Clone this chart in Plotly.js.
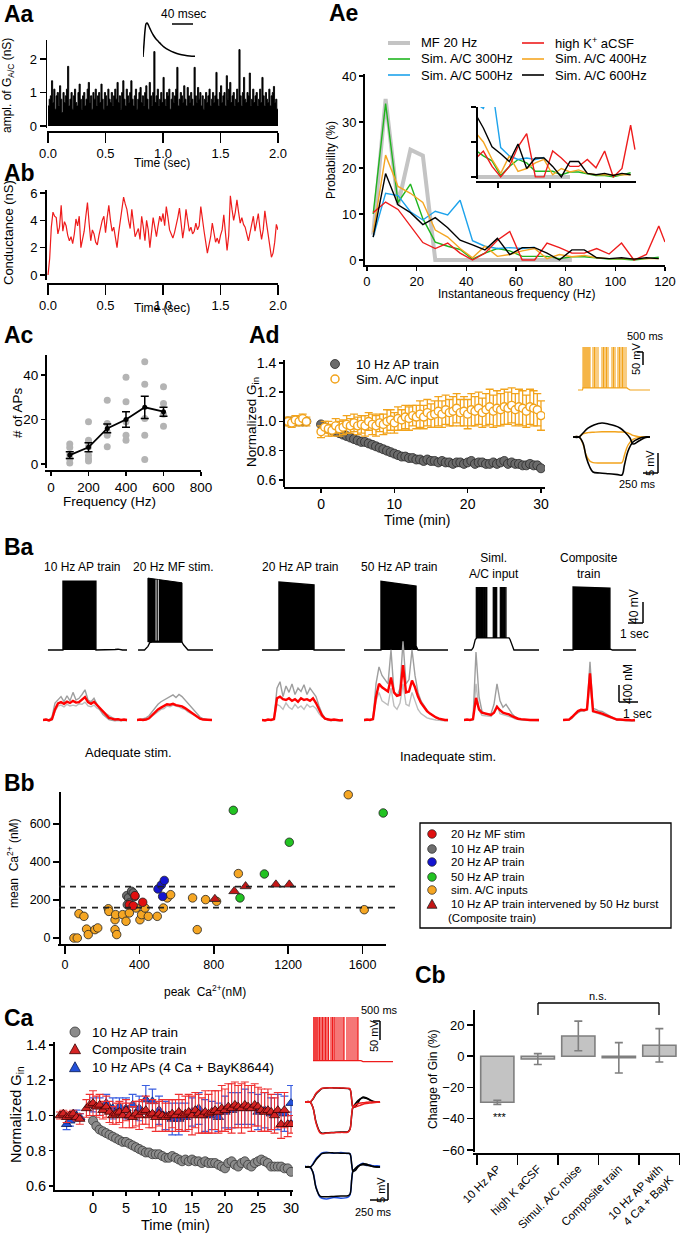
<!DOCTYPE html>
<html><head><meta charset="utf-8">
<script src="https://cdn.plot.ly/plotly-3.0.1.min.js"></script>
<style>html,body{margin:0;padding:0;background:#fff}#chart{width:682px;height:1234px}</style>
</head><body><div id="chart"></div>
<script>
// ================= DATA =================
// Aa: amplitude of simulated A/C conductance events (nS), one per 10 ms bin
const aaAmp = [
0.6,0.8,0.9,1.35,0.7,1.1,0.5,0.9,1.0,0.6,1.2,0.8,0.4,1.0,0.7,0.9,1.1,1.78,0.6,0.8,
1.0,0.5,0.9,1.1,0.7,0.6,1.0,1.25,0.8,0.5,0.9,1.0,0.6,0.8,1.1,1.3,0.7,0.9,0.5,1.0,
0.8,1.1,0.6,0.9,1.0,0.7,1.25,0.8,0.5,1.0,0.9,0.6,1.1,0.8,0.7,1.0,0.6,0.9,1.1,0.8,
1.3,0.7,0.9,0.5,1.0,1.35,0.8,0.6,1.1,0.9,0.7,1.0,1.35,0.8,0.6,0.9,1.1,0.5,0.8,1.0,
1.15,0.7,0.9,0.6,1.0,1.2,0.8,0.5,1.3,0.9,0.6,1.0,2.22,0.7,0.9,1.1,0.6,0.8,1.0,0.7,
1.45,0.8,0.6,1.0,0.9,1.1,0.5,0.8,1.0,0.7,0.9,1.1,1.75,0.6,0.8,1.0,0.9,0.7,1.2,0.8,
0.6,1.15,0.9,0.7,1.0,0.8,0.6,1.75,0.9,0.7,1.15,0.8,1.0,0.6,0.9,0.5,0.8,1.0,0.7,0.9,
1.1,0.6,0.8,1.0,0.7,0.9,1.6,0.8,0.6,1.0,1.2,0.7,0.9,1.0,0.6,1.5,0.8,1.1,1.3,0.7,
0.9,1.0,0.6,0.8,1.1,0.7,2.28,0.9,0.6,1.0,1.45,0.8,0.7,1.0,0.9,1.58,0.6,0.8,1.1,0.7,
0.9,1.0,0.6,0.8,1.1,0.7,1.45,0.9,0.6,1.0,0.8,0.7,1.1,0.6,0.9,1.0,1.18,0.7,0.8,0.5];
const aaKernelT = [0,2,4,6,8,10,13,16,20,25,30,35,40,50,60,70,80,90,100];
const aaKernelV = [0,0.4,0.8,0.98,1.0,0.95,0.85,0.75,0.64,0.53,0.45,0.37,0.3,0.2,0.13,0.08,0.05,0.03,0.02];
// Ab: conductance trace (nS), sampled evenly over 0-2 s
const abCond = [
0,1.2,3.5,4.6,4.3,4.2,3.0,3.5,5.1,3.2,3.9,3.6,2.9,2.5,2.8,2.3,3.0,4.1,3.6,4.3,
2.0,2.6,3.2,4.3,5.3,3.8,2.5,3.3,3.0,2.4,2.2,2.9,3.5,4.0,4.3,3.1,4.2,5.1,4.0,3.2,
3.5,2.7,2.0,3.1,4.0,4.8,5.7,5.2,4.8,4.0,3.4,4.8,3.6,2.8,3.1,3.4,2.6,4.3,3.5,2.5,
4.0,3.3,2.0,2.9,4.2,3.5,2.8,3.6,4.3,3.9,4.5,3.6,5.0,4.2,3.3,3.0,2.7,3.1,3.6,4.2,
4.9,3.8,2.7,3.5,4.8,4.0,3.2,3.5,3.0,3.2,3.8,3.3,3.6,5.0,3.9,3.2,2.4,1.6,2.2,2.8,
3.8,3.0,2.4,2.7,2.3,2.9,3.3,4.4,3.2,1.8,2.9,5.8,4.8,4.0,4.6,5.5,4.6,3.8,4.2,3.7,
3.5,2.9,2.5,3.1,3.7,4.3,3.2,3.9,4.5,3.4,2.6,3.3,4.7,3.8,3.0,2.0,1.3,1.6,2.4,3.7,3.3];
// Ae: instantaneous frequency histograms (%)
const aeFreq = [2.5,7.5,12.5,17.5,22.5,27.5,32.5,37.5,42.5,47.5,52.5,57.5,62.5,67.5,72.5,77.5,82.5,87.5,92.5,97.5,102.5,107.5,112.5,117.5];
const aeRedFreq = [2.5,7.5,12.5,17.5,22.5,27.5,32.5,37.5,42.5,47.5,52.5,57.5,62.5,67.5,72.5,77.5,82.5,87.5,92.5,97.5,102.5,107.5,112.5,117.5,120];
const aeMF20 = [5.5,35,12,24,22.7,0,0,0,0,0,0,0,0,0,0,0,0];
const aeSim300 = [10,34,12.5,16.5,9,3.9,3,2.3,0.2,1.5,2.5,2,0.8,0.8,0.8,0.3,0.7,0.7,0.5,0.2,0.2,0,0.3,0.6];
const aeSim400 = [6,22.8,16,14.5,12.5,6.5,5,2.5,0.5,3,0.8,1.2,2,2.5,0.3,1.2,0.7,1,0.5,0.3,0.3,0.3,0.3,0.3];
const aeSim500 = [5,14.5,14,10.5,8.7,10.6,9.8,13,4.2,3,2.5,2.7,2.5,2.8];
const aeSim600 = [5,18.8,12,10.3,7.7,9.2,7,4.3,3.3,2.2,4.7,1.2,2.7,2.7,1.5,0,2.2,2.2,0.5,0.3,0.5,0.2,0.5,0.3];
const aeHighK = [10.3,12.6,11,7.3,3.8,2.5,3.7,1.5,0,1.5,4.3,6.2,0,0,3.7,2.7,1.5,1.5,2.5,1.3,3.7,0,1.2,7.4,3.9];
// Ac: number of APs vs stimulation frequency
const acFreq = [100,200,300,400,500,600];
const acMean = [4,7.5,16,20,25.5,23.5];
const acSem = [1.5,2,2,3.5,5,2];
const acCells100 = [9,7.4,4.2,2.4,0.5];
const acCells200 = [19,10.7,9.9,7.7,3.9,2.4,1.4];
const acCells300 = [28.7,18.2,14.4,12.9,7.7];
const acCells400 = [39,28,19,12.9,10.7];
const acCells500 = [46,35.8,20.5,12.9,2];
const acCells600 = [34.7,27.2,22.4,17];
// Ad: normalized Gin (baseline -4.5..-2 min, then 0..30 min every 0.5 min)
const adBaseT = [-4.5,-4,-3.5,-3,-2.5,-2];
const adApTrain = [1.00,1.00,1.00,1.00,1.00,1.00,
0.98,0.96,0.95,0.94,0.93,0.92,0.91,0.90,0.89,0.88,
0.87,0.86,0.86,0.85,0.84,0.83,0.82,0.81,0.80,0.79,
0.78,0.77,0.76,0.76,0.75,0.75,0.74,0.74,0.73,0.74,
0.73,0.73,0.72,0.73,0.72,0.72,0.71,0.72,0.72,0.71,
0.72,0.73,0.71,0.72,0.72,0.71,0.71,0.72,0.71,0.72,
0.73,0.71,0.72,0.71,0.71,0.70,0.70,0.71,0.70,0.70,0.68];
const adSimAC = [1.00,0.99,1.01,1.00,1.02,1.00,
0.93,0.96,0.95,0.94,0.97,0.95,0.96,0.98,0.97,0.99,
0.97,0.98,0.97,1.00,0.98,0.97,0.99,0.98,1.00,1.01,
0.99,1.02,1.01,1.03,1.02,1.04,1.03,1.05,1.03,1.06,
1.04,1.05,1.07,1.05,1.08,1.06,1.07,1.09,1.06,1.07,
1.05,1.08,1.07,1.09,1.06,1.08,1.10,1.07,1.09,1.08,
1.10,1.09,1.11,1.08,1.10,1.09,1.07,1.10,1.09,1.08,1.04];
const adSimACErr = [0.03,0.03,0.03,0.03,0.03,0.03,
0.04,0.04,0.05,0.04,0.05,0.05,0.05,0.06,0.05,0.06,
0.06,0.06,0.07,0.06,0.07,0.07,0.06,0.07,0.08,0.07,
0.07,0.08,0.07,0.08,0.08,0.07,0.08,0.09,0.08,0.09,
0.08,0.09,0.10,0.09,0.10,0.09,0.10,0.10,0.09,0.10,
0.10,0.11,0.10,0.11,0.10,0.11,0.12,0.11,0.12,0.11,
0.12,0.11,0.12,0.11,0.12,0.12,0.11,0.12,0.12,0.11,0.10];
const adSpikeTimes = [100,120,140,160,180,200,220,240,300,330,360,400,480,510,540,570,600,680,710,740,800,830,860,890,920,960];
const adStepT1 = [0,100,167,220,280,334,450,600,750,818,860,920,1002,1100,1200,1286];
const adBlackDown = [0,0,-1.5,-5,-7.5,-8.75,-9.0,-9.2,-9.4,-9.5,-7,-3.5,-1.25,-0.4,0,0];
const adOrangeDown = [0,0,-1.8,-4.5,-6.0,-6.4,-6.5,-6.5,-6.5,-6.4,-4.5,-2.0,-0.6,-0.1,0,0];
const adStepT2 = [0,100,167,250,350,484,600,700,785,870,952,1002,1100,1200,1286];
const adBlackUp = [0,0,1.0,2.2,3.0,3.5,3.2,2.8,2.25,1.2,-0.25,-1.75,-1.0,-0.2,0];
const adOrangeUp = [0,0,0.8,1.1,1.2,1.3,1.3,1.3,1.25,1.2,0.8,0.4,0.1,0,0];
// Ba: membrane potential envelopes (s, mV) and Ca2+ traces (nM, every 0.2 s)
const baHeaders = ['10 Hz AP train','20 Hz MF stim.','20 Hz AP train','50 Hz AP train','Siml.<br>A/C input','Composite<br>train'];
const baV10T = [0.33,0.9,1.33,1.33,3.53,3.53,4.3,4.8,5.0,5.3,5.6];
const baV10V = [-70,-70,-70,61,61,-70,-70,-69,-68.5,-70,-70];
const baMfPlatT = [0.07,0.5,0.73,0.85,1.0,1.5,2.0,2.5,3.0,3.1,3.25,3.4,4.0,4.5,5.07];
const baMfPlatV = [-70,-70,-63,-56,-55,-54.5,-55,-55,-55,-60,-66,-70,-70,-70,-70];
const baMfBlockT = [0.73,0.73,3.0,3.0];
const baMfBlockV = [-55,67,58,-55];
const baMfGaps = [1.27,1.42];
const baV20T = [0,1.13,1.13,3.47,3.47,4.5,5.53];
const baV20V = [-70,-70,59.5,54,-70,-70,-70];
const baV50T = [0,1.13,1.13,3.47,3.47,3.6,4.5,5.6];
const baV50V = [-70,-70,61,52,-62,-70,-70,-70];
const baSimPlatT = [0,0.5,0.62,0.75,0.85,1.5,2.0,2.5,3.0,3.07,3.2,3.33,4.0,4.5,5.0];
const baSimPlatV = [-70,-70,-65,-50,-47,-47,-48,-47,-47,-50,-62,-70,-70,-70,-70];
const baSimSpikes = [0.82,0.86,0.9,0.94,0.98,1.02,1.05,1.09,1.13,1.17,1.2,1.24,1.28,1.32,1.36,1.4,1.45,1.49,1.52,1.95,1.99,2.02,2.06,2.1,2.14,2.18,2.42,2.46,2.5,2.54,2.58,2.62,2.66,2.7,2.74,2.8];
const baCompT = [0,0.67,0.67,3.13,3.13,3.3,4.0,4.87];
const baCompV = [-70,-70,50,48,-68,-70,-70,-70];
const ca10Red = [50,60,40,70,300,440,470,430,480,450,500,460,470,520,590,470,430,480,400,330,240,160,100,80,60,70,50,60,50];
const ca10G1 = [50,70,50,120,450,520,600,480,620,500,700,520,560,650,760,520,480,560,420,280,180,120,60,40,30,40,30,40,30];
const ca10G2 = [40,50,30,50,250,380,400,360,420,380,400,380,430,420,470,380,360,400,330,300,260,200,150,110,80,60,50,50,40];
const caMfRed = [50,60,50,60,90,160,230,300,340,380,420,410,430,400,390,370,330,280,220,160,110,80,60,60,50,50];
const caMfG1 = [40,60,80,100,150,250,330,420,480,520,560,600,640,580,650,600,520,440,360,260,180,120,80,60,50,40];
const caMfG2 = [50,50,40,60,80,140,200,250,300,320,380,360,400,380,360,320,300,240,200,160,120,90,70,50,50,50];
const ca20Red = [50,40,60,50,70,560,600,540,520,560,500,540,480,560,520,540,500,560,450,300,160,80,60,50,60,50,40,50];
const ca20G1 = [40,50,40,60,80,800,950,600,850,700,900,650,800,720,880,650,800,700,600,380,200,100,50,40,50,40,30,40];
const ca20G2 = [50,40,50,40,60,420,380,300,450,350,300,420,330,380,300,420,350,380,320,200,120,70,40,30,40,30,30,30];
const ca50Red = [50,60,50,70,600,900,820,760,720,1050,700,620,640,1340,700,720,980,820,600,450,350,260,200,150,110,80,60,50,50];
const ca50G1 = [40,50,60,80,900,1300,1100,1000,900,1700,700,600,800,1900,900,1000,1700,1100,700,500,380,280,200,150,100,70,50,40,40];
const ca50G2 = [30,40,40,60,500,700,500,450,400,800,380,300,450,900,420,380,700,500,300,200,150,100,80,60,50,40,30,30,30];
const caSimRed = [50,60,50,70,570,300,220,200,180,170,220,360,280,220,200,180,140,110,80,70,60,60,50,50,50,50];
const caSimG1 = [40,50,40,60,1650,600,250,200,180,200,420,900,500,350,420,300,200,120,80,60,50,40,50,40,40,40];
const caSimG2 = [50,40,50,50,900,280,160,150,140,130,250,400,200,180,160,140,110,80,60,50,40,40,40,30,30,30];
const caCompRed = [50,60,60,120,200,260,290,280,300,1150,260,240,230,200,170,140,110,80,60,60,50,50,50,40,50];
const caCompG1 = [40,50,50,100,180,230,260,270,300,1420,320,300,260,250,210,170,120,80,50,40,40,30,40,30,30];
const caCompG2 = [50,40,50,90,170,230,270,260,280,900,240,220,200,170,150,120,100,70,50,50,40,40,30,30,30];
// Bb: peak vs mean Ca2+ (nM)
const bbMfPeak = [346,367,376,418], bbMfMean = [175,170,223,188];
const bbAp10Peak = [332,341,346,358,367,376,335], bbAp10Mean = [223,211,184,246,237,219,175];
const bbAp20Peak = [500,518,534,525], bbAp20Mean = [258,279,303,219];
const bbAp50Peak = [905,1206,1072,941,1711], bbAp50Mean = [672,504,337,211,658];
const bbSimPeak = [48,66,116,125,161,176,75,102,233,236,269,272,269,278,310,328,346,382,403,412,430,448,496,529,550,568,686,711,756,815,932,1523,1609];
const bbSimMean = [0,0,47,18,44,53,128,114,154,140,96,123,44,18,123,88,132,158,96,123,158,114,114,158,211,228,211,44,202,193,339,754,149];
const bbCompPeak = [806,910,971,1134,1206], bbCompMean = [205,246,272,281,281];
const bbThresholds = [270,160];
// Ca: normalized Gin
const caApT0 = 0;
const caApTrain = [0.97,0.94,0.92,0.91,0.90,0.89,0.88,0.87,0.86,0.85,
0.85,0.84,0.83,0.82,0.81,0.80,0.79,0.79,0.78,0.78,
0.78,0.77,0.76,0.76,0.77,0.76,0.75,0.74,0.75,0.74,
0.75,0.74,0.74,0.73,0.74,0.73,0.73,0.73,0.72,0.71,
0.70,0.73,0.74,0.72,0.71,0.73,0.74,0.72,0.71,0.73,
0.74,0.75,0.74,0.73,0.71,0.71,0.71,0.71,0.70,0.70,0.68];
const caCompBaseT = [-5,-4.5,-4,-3.5,-3,-2.5,-2];
const caComposite = [1.00,1.01,0.99,1.00,1.01,0.99,0.98,
1.04,1.06,1.07,1.05,1.06,1.03,1.05,1.02,1.00,1.01,
1.02,1.00,1.03,1.00,0.99,1.01,1.00,1.02,1.03,1.00,
1.01,0.99,1.01,1.00,0.99,1.00,1.01,1.00,1.02,1.00,
1.01,1.02,1.00,1.03,1.01,1.00,1.02,1.01,1.02,1.03,
1.02,1.04,1.03,1.05,1.04,1.06,1.05,1.04,1.06,1.05,
1.04,1.06,1.05,1.03,1.02,1.03,1.02,1.00,1.03,0.95,
1.03,0.95,0.95];
const caCompositeErr = [0.02,0.02,0.03,0.02,0.02,0.02,0.03,
0.05,0.06,0.07,0.06,0.06,0.05,0.06,0.06,0.05,0.06,
0.06,0.07,0.06,0.07,0.06,0.07,0.08,0.07,0.08,0.07,
0.08,0.08,0.07,0.09,0.08,0.09,0.08,0.09,0.10,0.09,
0.10,0.10,0.11,0.10,0.11,0.10,0.12,0.11,0.12,0.11,
0.12,0.13,0.12,0.13,0.14,0.13,0.12,0.14,0.13,0.12,
0.13,0.12,0.11,0.12,0.11,0.12,0.10,0.10,0.10,0.08,
0.10,0.07,0.05];
const caBayT = [-4,-3.5,-2.5,-2,0,1,2,3,4,5,6,7,8,9,10,11,12,13,14,15,16,17,18,19,20,21,22,23,24,25,26,27,28,29,30];
const caBayK = [0.95,0.97,1.00,0.99,
1.06,1.05,1.07,1.04,1.05,1.04,1.06,1.04,1.09,1.08,
1.03,1.00,0.98,0.98,0.99,1.02,1.04,1.00,1.00,0.99,
1.02,1.03,1.04,1.05,1.04,1.02,1.03,1.01,1.02,1.01,1.07];
const caBayKErr = [0.03,0.03,0.03,0.02,
0.04,0.05,0.05,0.06,0.05,0.06,0.06,0.07,0.08,0.07,
0.08,0.08,0.09,0.09,0.08,0.08,0.09,0.09,0.08,0.08,
0.09,0.10,0.09,0.10,0.09,0.10,0.10,0.09,0.10,0.10,0.10];
const caSpikeTimes = [0,20,40,60,80,100,130,160,190,220,250,280,310,360,390,420,440,480,520,560,600,620,680,720,760,800,840,880,900];
const caSpikeBaseT = [0,960,1000,1600], caSpikeBaseV = [-62,-62,-64,-64];
const caStepT = [0,70,111,153,208,236,300,400,500,598,625,650,667,700,737,770,806,850,900,945,1000,1043];
const caBlackUp1 = [0,0,0.8,2.2,3.3,3.7,3.9,3.9,3.8,3.7,3.5,0.5,-1.5,-1.3,-0.2,0.8,1.4,1.2,0.6,0.1,0,0];
const caRedUp = [0,0,0.9,2.4,3.4,3.8,3.9,3.9,3.9,3.8,3.6,0.4,-1.3,-1.4,-1.1,-0.9,-0.6,-0.4,-0.3,-0.2,-0.1,0];
const caBlackDown1 = [0,0,-1.5,-5.5,-8.3,-8.6,-8.5,-8.4,-8.3,-8.2,-7.5,-3.5,-1.4,-0.5,0.4,0.9,1.2,1.0,0.6,0.2,0,0];
const caRedDown = [0,0,-1.6,-5.8,-8.5,-8.8,-8.6,-8.5,-8.4,-8.3,-7.6,-3.2,-1.3,-0.8,-0.5,-0.3,-0.2,-0.1,0,0,0,0];
const caBlackUp2 = [0,0,0.7,2.0,3.2,3.7,3.9,3.9,3.8,3.8,3.6,0.6,-1.2,-1.0,0,0.6,0.9,0.8,0.4,0.1,0,0];
const caBlueUp = [0.2,-0.1,0.9,2.3,3.4,3.9,4.1,3.8,4.0,3.7,3.7,0.5,-1.1,-0.8,0.2,0.7,1.0,0.6,0.5,0.3,0.1,0.2];
const caBlackDown2 = [0,0,-1.6,-5.8,-8.1,-8.3,-8.3,-8.2,-8.1,-8.0,-7.6,-3.2,-1.2,-0.4,0.2,0.5,0.6,0.5,0.3,0.1,0,0];
const caBlueDown = [0.1,-0.2,-1.4,-5.6,-8.4,-8.7,-8.9,-8.5,-8.7,-8.4,-7.8,-3.4,-1.0,-0.6,0.3,0.6,0.8,0.4,0.5,0.2,0.3,0.1];
// Cb: change of Gin (%)
const cbCats = ['10 Hz AP','high K aCSF','Simul. A/C noise','Composite train','10 Hz AP with<br>4 Ca + BayK'];
const cbVals = [-29.5,-1.8,13,-1,7];
const cbErr = [1.3,3.5,9.5,9.7,10.7];

// ================= BUILD =================
const W = 682, H = 1234;
const FONT = 'Arial, "Liberation Sans", Helvetica, sans-serif';
const fx = p => p / W, fy = p => 1 - p / H;
const layout = {width:W, height:H, margin:{l:0,r:0,t:0,b:0}, paper_bgcolor:'#fff', plot_bgcolor:'rgba(0,0,0,0)',
  showlegend:false, font:{family:FONT,color:'#000',size:13}, shapes:[], annotations:[], hovermode:false};
const traces = [];
let nx = 0, ny = 0;
function addX(cfg){ nx++; layout[nx===1?'xaxis':'xaxis'+nx] = cfg; return nx===1?'x':'x'+nx; }
function addY(cfg){ ny++; layout[ny===1?'yaxis':'yaxis'+ny] = cfg; return ny===1?'y':'y'+ny; }
function axStyle(o){ return {anchor:'free', showline:true, linecolor:'#000', linewidth:1.5, ticks:'outside',
  ticklen:o.ticklen||5, tickwidth:1.5, tickcolor:'#000', showgrid:false, zeroline:false,
  tickvals:o.tickvals, ticktext:o.ticktext, showticklabels:o.labels!==false,
  tickfont:{family:FONT,size:o.size||13,color:'#000'}, fixedrange:true}; }
function visX(x0,x1,range,linePy,o={}){ return addX(Object.assign({domain:[fx(x0),fx(x1)], range, position:fy(linePy)}, axStyle(o))); }
function visY(y0,y1,range,linePx,o={}){ return addY(Object.assign({domain:[fy(y1),fy(y0)], range, position:fx(linePx)}, axStyle(o))); }
function hidX(x0,x1,range){ return addX({domain:[fx(x0),fx(x1)], range, anchor:'free', position:0, visible:false, fixedrange:true}); }
function hidY(y0,y1,range){ return addY({domain:[fy(y1),fy(y0)], range, anchor:'free', position:0, visible:false, fixedrange:true}); }
function line(xa,ya,x,y,color,width,extra={}){ traces.push(Object.assign({type:'scatter',mode:'lines',xaxis:xa,yaxis:ya,x,y,line:{color,width},hoverinfo:'skip'},extra)); }
function ann(text,x,y,size,o={}){ layout.annotations.push({text, x:fx(x), y:fy(y), xref:'paper', yref:'paper', showarrow:false,
  xanchor:o.xanchor||'center', yanchor:o.yanchor||'middle', textangle:o.angle||0, align:o.align||'center',
  font:{family:FONT,size,color:o.color||'#000'}}); }
function seg(x0,y0,x1,y1,color='#000',width=1.5,dash){ layout.shapes.push({type:'line',xref:'paper',yref:'paper',x0:fx(x0),y0:fy(y0),x1:fx(x1),y1:fy(y1),line:{color,width,dash}}); }
function dot(cx,cy,r,fill,lc,lw){ layout.shapes.push({type:'circle',xref:'paper',yref:'paper',x0:fx(cx-r),x1:fx(cx+r),y0:fy(cy+r),y1:fy(cy-r),fillcolor:fill,line:{color:lc,width:lw}}); }
function tri(cx,cy,s,fill,lc){ layout.shapes.push({type:'path',xref:'paper',yref:'paper',
  path:`M${fx(cx-s)},${fy(cy+s*0.85)} L${fx(cx+s)},${fy(cy+s*0.85)} L${fx(cx)},${fy(cy-s*0.95)} Z`,fillcolor:fill,line:{color:lc,width:0.8}}); }
function spikes(times, base, peak){ const x=[],y=[]; times.forEach(t=>{x.push(t,t,null); y.push(base,peak,null);}); return {x,y}; }
const evenT = (n, step) => Array.from({length:n}, (_, i) => +(i*step).toFixed(4));
const halfGrid = (a,b) => { const r=[]; for(let v=a; v<=b+1e-9; v+=0.5) r.push(+v.toFixed(2)); return r; };

// ---------- Aa ----------
const xAa = visX(47,278,[-0.009,2.0],131,{ticklen:10,tickvals:[0,0.5,1,1.5,2],ticktext:['0.0','0.5','1.0','1.5','2.0']});
const yAa = visY(40,128,[-0.06,2.567],45.5,{ticklen:6,tickvals:[0,1,2]});
// step-shaped filled histogram of the event amplitudes (10 ms bins)
traces.push({type:'scatter', mode:'lines', xaxis:xAa, yaxis:yAa,
  x:aaAmp.map((_,i)=>i*0.01).concat([2.0]), y:aaAmp.concat([aaAmp[aaAmp.length-1]]),
  line:{color:'#000', width:0.9, shape:'hv'}, fill:'tozeroy', fillcolor:'#000', hoverinfo:'skip'});
const xAaK = hidX(143,195,[0,100]), yAaK = hidY(22,58,[-0.03,1.03]);
line(xAaK,yAaK,aaKernelT,aaKernelV,'#000',1.5,{line:{color:'#000',width:1.5,shape:'spline'}});
seg(172,24,193,24,'#000',1.5);
ann('40 msec',183,14,12);
ann('ampl. of G<sub>A/C</sub> (nS)',8,86,12,{angle:-90});
ann('Time (sec)',162,163,12);
ann('<b>Aa</b>',2,14,23,{xanchor:'left'});

// ---------- Ab ----------
const xAb = visX(47,278,[-0.009,2.0],283,{ticklen:10,tickvals:[0,0.5,1,1.5,2],ticktext:['0.0','0.5','1.0','1.5','2.0']});
const yAb = visY(190,280,[-0.37,6.22],45,{ticklen:5,tickvals:[0,2,4,6]});
line(xAb,yAb,evenT(abCond.length, 2/(abCond.length-1)),abCond,'#ee1c1c',1.2);
ann('Conductance (nS)',8,233,13,{angle:-90});
ann('Time (sec)',162,308,12);
ann('<b>Ab</b>',2,173,23,{xanchor:'left'});

// ---------- Ae ----------
const xAe = visX(363,665,[-1.6,120],265,{tickvals:[0,20,40,60,80,100,120],ticklen:4});
const yAe = visY(74,265,[-1.08,40.43],363,{tickvals:[0,10,20,30,40],ticklen:4});
const aeSeries = [
  [aeFreq.slice(0,17), aeMF20, '#c4c4c4', 4],
  [aeFreq, aeSim300, '#1fb51f', 1.4],
  [aeFreq.slice(0,14), aeSim500, '#1ea3ec', 1.4],
  [aeFreq, aeSim400, '#f5a623', 1.4],
  [aeRedFreq, aeHighK, '#ee1c1c', 1.4],
  [aeFreq, aeSim600, '#000000', 1.4]];
aeSeries.forEach(s=>line(xAe,yAe,s[0],s[1],s[2],s[3]));
const xAeI = visX(476,636,[28.25,120.6],181,{labels:false,tickvals:[41,71,100]});
const yAeI = visY(107,179,[-0.3,10],476,{labels:false,tickvals:[0,5,10]});
aeSeries.forEach(s=>line(xAeI,yAeI,s[0],s[1],s[2],s[3]));
const aeLegend = [['MF 20 Hz',388,43,'#c4c4c4',4],['Sim. A/C 300Hz',388,59,'#1fb51f',1.6],['Sim. A/C 500Hz',388,75,'#1ea3ec',1.6],
  ['high K<sup>+</sup> aCSF',522,43,'#ee1c1c',1.6],['Sim. A/C 400Hz',522,59,'#f5a623',1.6],['Sim. A/C 600Hz',522,75,'#000',1.6]];
aeLegend.forEach(l=>{ seg(l[1],l[2],l[1]+22,l[2],l[3],l[4]); ann(l[0],l[1]+31,l[2],13,{xanchor:'left'}); });
ann('Probability (%)',331,160,12,{angle:-90});
ann('Instantaneous frequency (Hz)',516,294,12);
ann('<b>Ae</b>',327,13,23,{xanchor:'left'});

// ---------- Ac ----------
const xAc = visX(45,201,[-32,800],470,{tickvals:[0,200,400,600,800],size:13.5,ticklen:4});
const yAc = visY(355,468,[-1.8,49],45,{tickvals:[0,20,40],size:13.5,ticklen:4});
const acCells = [acCells100,acCells200,acCells300,acCells400,acCells500,acCells600];
const acDotX = [], acDotY = [];
acCells.forEach((arr,i)=>arr.forEach(v=>{acDotX.push(acFreq[i]); acDotY.push(v);}));
traces.push({type:'scatter',mode:'markers',xaxis:xAc,yaxis:yAc,x:acDotX,y:acDotY,marker:{color:'#b4b4b4',size:7},hoverinfo:'skip',cliponaxis:false});
traces.push({type:'scatter',mode:'lines+markers',xaxis:xAc,yaxis:yAc,x:acFreq,y:acMean,line:{color:'#000',width:1.8},
  marker:{color:'#000',size:5},error_y:{type:'data',array:acSem,color:'#000',thickness:1.5,width:4},hoverinfo:'skip'});
ann('# of APs',17,413,13.5,{angle:-90});
ann('Frequency (Hz)',109,501,13.5);
ann('<b>Ac</b>',2,335,23,{xanchor:'left'});

// ---------- Ad ----------
const xAd = visX(284,545,[-5.05,30.55],487,{tickvals:[0,10,20,30],size:14,ticklen:4});
const yAd = visY(360,487,[0.552,1.42],283,{tickvals:[0.6,0.8,1.0,1.2,1.4],ticktext:['0.6','0.8','1.0','1.2','1.4'],size:14,ticklen:4});
const adT = adBaseT.concat(halfGrid(0,30));
traces.push({type:'scatter',mode:'markers',xaxis:xAd,yaxis:yAd,x:adT,y:adApTrain,
  marker:{color:'#6b6b6b',size:9,line:{color:'#2a2a2a',width:0.8}},error_y:{type:'constant',value:0.015,color:'#8a8a8a',thickness:1,width:3},hoverinfo:'skip'});
traces.push({type:'scatter',mode:'markers',xaxis:xAd,yaxis:yAd,x:adT,y:adSimAC,
  marker:{color:'#ffffff',size:8,line:{color:'#f2a31b',width:1.4}},error_y:{type:'data',array:adSimACErr,color:'#f2a31b',thickness:1.3,width:4},hoverinfo:'skip'});
dot(335,364,4.5,'#6b6b6b','#2a2a2a',0.8); ann('10 Hz AP train',354,364,13,{xanchor:'left'});
dot(335,379,4,'#ffffff','#f2a31b',1.5); ann('Sim. A/C input',354,379,13,{xanchor:'left'});
ann('Normalized G<sub>in</sub>',252,422,13.5,{angle:-90});
ann('Time (min)',417,520,14);
ann('<b>Ad</b>',247,335,23,{xanchor:'left'});
// Ad insets
const xAdS = hidX(578,650,[0,1440]), yAdS = hidY(345,392,[-69.9,44.9]);
line(xAdS,yAdS,[0,90,100,980,1000,1040,1440],[-65,-65,-60,-60,-62,-65,-65],'#f2a31b',1.2);
const adSp = spikes(adSpikeTimes,-60,40);
line(xAdS,yAdS,adSp.x,adSp.y,'#f2a31b',1.1);
seg(643,352,643,365); seg(637,352,643,352);
ann('500 ms',645,336,11); ann('50 mV',636,359,11,{angle:-90});
const xAdT = hidX(573,652,[0,1320]), yAdT = hidY(420,478,[-10.25,4.25]);
line(xAdT,yAdT,adStepT1,adOrangeDown,'#f2a31b',1.4,{line:{color:'#f2a31b',width:1.4,shape:'spline'}});
line(xAdT,yAdT,adStepT2,adOrangeUp,'#f2a31b',1.4,{line:{color:'#f2a31b',width:1.4,shape:'spline'}});
line(xAdT,yAdT,adStepT1,adBlackDown,'#000',1.6,{line:{color:'#000',width:1.6,shape:'spline'}});
line(xAdT,yAdT,adStepT2,adBlackUp,'#000',1.6,{line:{color:'#000',width:1.6,shape:'spline'}});
seg(658,453,658,473); seg(643,473,658,473);
ann('5 mV',650,463,11,{angle:-90}); ann('250 ms',637,484,11);

// ---------- Ba ----------
ann('<b>Ba</b>',2,547,23,{xanchor:'left'});
const baX0 = [43,137,262,364,464,563], baX1 = [128,213,346,449,540,637];
const baXa = baX0.map((x0,i)=>hidX(x0,baX1[i],[0,(baX1[i]-x0)/15]));
const yBaV = hidY(575,655,[-79.5,72.9]);
const yBaC = hidY(630,725,[-68,2168]);
const baHx = [82,173,300,399,494,589], baHy = [567,567,567,567,566,566];
baHeaders.forEach((h,i)=>ann(h,baHx[i],baHy[i],12));
const blk = {fill:'toself',fillcolor:'#000'};
line(baXa[0],yBaV,baV10T,baV10V,'#000',1.3,blk);
line(baXa[1],yBaV,baMfPlatT,baMfPlatV,'#000',1.3);
line(baXa[1],yBaV,baMfBlockT,baMfBlockV,'#000',1.0,blk);
const gp = spikes(baMfGaps,-52,64); line(baXa[1],yBaV,gp.x,gp.y,'#ffffff',0.9);
line(baXa[2],yBaV,baV20T,baV20V,'#000',1.3,blk);
line(baXa[3],yBaV,baV50T,baV50V,'#000',1.3,blk);
line(baXa[4],yBaV,baSimPlatT,baSimPlatV,'#000',1.3);
const ssp = spikes(baSimSpikes,-47,50); line(baXa[4],yBaV,ssp.x,ssp.y,'#000',1.2);
line(baXa[5],yBaV,baCompT,baCompV,'#000',1.3,blk);
const caSets = [[ca10Red,ca10G1,ca10G2],[caMfRed,caMfG1,caMfG2],[ca20Red,ca20G1,ca20G2],[ca50Red,ca50G1,ca50G2],[caSimRed,caSimG1,caSimG2],[caCompRed,caCompG1,caCompG2]];
caSets.forEach((s,i)=>{
  const t = evenT(s[0].length,0.2);
  line(baXa[i],yBaC,t,s[2],'#bdbdbd',1.4);
  line(baXa[i],yBaC,t,s[1],'#9e9e9e',1.4);
  line(baXa[i],yBaC,t,s[0],'#ff0000',2.4);
});
seg(643,602,643,623); seg(628,623,643,623);
ann('40 mV',634,607,12,{angle:-90}); ann('1 sec',634,634,12);
seg(619,685,619,702); seg(619,702,638,702);
ann('400 nM',628,684,12,{angle:-90}); ann('1 sec',637,714,12);
ann('Adequate stim.',128,752,13);
ann('Inadequate stim.',448,757,13);

// ---------- Bb ----------
ann('<b>Bb</b>',2,783,23,{xanchor:'left'});
const xBb = visX(58,386,[-37.6,1726],944,{tickvals:[0,400,800,1200,1600],ticklen:8,size:12.5});
const yBb = visY(792,944,[-31.6,768.4],59,{tickvals:[0,200,400,600],ticklen:6,size:12.5});
bbThresholds.forEach(v=>layout.shapes.push({type:'line',xref:'paper',yref:yBb,x0:fx(59),x1:fx(395),y0:v,y1:v,line:{color:'#222',width:1.8,dash:'6px,5px'}}));
const bbGroups = [
  [bbSimPeak,bbSimMean,'#f5a623','circle'],
  [bbAp10Peak,bbAp10Mean,'#6e6e6e','circle'],
  [bbMfPeak,bbMfMean,'#e01010','circle'],
  [bbAp20Peak,bbAp20Mean,'#1414d0','circle'],
  [bbAp50Peak,bbAp50Mean,'#22c322','circle'],
  [bbCompPeak,bbCompMean,'#c41616','triangle-up']];
bbGroups.forEach(g=>traces.push({type:'scatter',mode:'markers',xaxis:xBb,yaxis:yBb,x:g[0],y:g[1],cliponaxis:false,
  marker:{color:g[2],symbol:g[3],size:g[3]==='circle'?8.5:9.5,line:{color:'#222',width:0.8}},hoverinfo:'skip'}));
ann('mean  Ca<sup>2+</sup> (nM)',13,863,12,{angle:-90});
ann('peak  Ca<sup>2+</sup>(nM)',205,991,12);
layout.shapes.push({type:'rect',xref:'paper',yref:'paper',x0:fx(420),x1:fx(671),y0:fy(928),y1:fy(823),line:{color:'#000',width:1.3}});
const bbLeg = [['20 Hz MF stim','#e01010',834],['10 Hz AP train','#6e6e6e',849],['20 Hz AP train','#1414d0',862],['50 Hz AP train','#22c322',877],['sim. A/C inputs','#f5a623',890]];
bbLeg.forEach(l=>{ dot(432,l[2],4.3,l[1],'#222',0.7); ann(l[0],449,l[2],11.5,{xanchor:'left'}); });
tri(432,904,5,'#c41616','#222'); ann('10 Hz AP train intervened by 50 Hz burst',449,904,11.5,{xanchor:'left'});
ann('(Composite train)',446,918,11.5,{xanchor:'left'});

// ---------- Ca ----------
ann('<b>Ca</b>',2,1018,23,{xanchor:'left'});
const xCa = visX(53,293,[-6.06,30.3],1190,{tickvals:[0,5,10,15,20,25,30],size:14.5,ticklen:4});
const yCa = visY(1042,1190,[0.577,1.417],53,{tickvals:[0.6,0.8,1.0,1.2,1.4],ticktext:['0.6','0.8','1.0','1.2','1.4'],size:14.5,ticklen:4});
traces.push({type:'scatter',mode:'markers',xaxis:xCa,yaxis:yCa,x:caBayT,y:caBayK,
  marker:{color:'#2350d8',symbol:'triangle-up',size:9,line:{color:'#0a1a50',width:0.8}},error_y:{type:'data',array:caBayKErr,color:'#3b5fe0',thickness:1.2,width:4},hoverinfo:'skip'});
traces.push({type:'scatter',mode:'markers',xaxis:xCa,yaxis:yCa,x:caCompBaseT.concat(halfGrid(-1,30)),y:caComposite,
  marker:{color:'#d42424',symbol:'triangle-up',size:9,line:{color:'#3a0000',width:0.8}},error_y:{type:'data',array:caCompositeErr,color:'#f03030',thickness:1.1,width:4},hoverinfo:'skip'});
traces.push({type:'scatter',mode:'markers',xaxis:xCa,yaxis:yCa,x:halfGrid(caApT0,30),y:caApTrain,
  marker:{color:'#8c8c8c',size:9,line:{color:'#3a3a3a',width:0.8}},error_y:{type:'constant',value:0.015,color:'#a8a8a8',thickness:1,width:3},hoverinfo:'skip'});
dot(75,1032,5,'#8c8c8c','#3a3a3a',0.8); ann('10 Hz AP train',90,1032,13.5,{xanchor:'left'});
tri(75,1049,5.5,'#d42424','#3a0000'); ann('Composite train',90,1049,13.5,{xanchor:'left'});
tri(75,1067,5.5,'#2350d8','#0a1a50'); ann('10 Hz APs (4 Ca + BayK8644)',90,1067,13.5,{xanchor:'left'});
ann('Normalized G<sub>in</sub>',17,1115,14.5,{angle:-90});
ann('Time (min)',175,1225,14.5);
// Ca insets
const xCaS = hidX(313,395,[0,1640]), yCaS = hidY(1015,1064,[-69.7,44.7]);
line(xCaS,yCaS,caSpikeBaseT,caSpikeBaseV,'#ee1c1c',1.2);
const csp = spikes(caSpikeTimes,-62,40); line(xCaS,yCaS,csp.x,csp.y,'#ee1c1c',1.2);
seg(380,1021,380,1040); seg(373,1021,380,1021);
ann('500 ms',380,1010,11); ann('50 mV',374,1036,11,{angle:-90});
const xCaT1 = hidX(305,392,[0,1209]), yCaT1 = hidY(1085,1136,[-9.4,4.7]);
const sp = c => ({line:{color:c,width:1.5,shape:'spline'}});
line(xCaT1,yCaT1,caStepT,caBlackUp1,'#000',1.5,sp('#000'));
line(xCaT1,yCaT1,caStepT,caBlackDown1,'#000',1.5,sp('#000'));
line(xCaT1,yCaT1,caStepT,caRedUp,'#ee1c1c',1.5,sp('#ee1c1c'));
line(xCaT1,yCaT1,caStepT,caRedDown,'#ee1c1c',1.5,sp('#ee1c1c'));
const xCaT2 = hidX(305,392,[0,1209]), yCaT2 = hidY(1150,1200,[-9.2,4.7]);
line(xCaT2,yCaT2,caStepT,caBlueUp,'#1f4fe0',1.5,sp('#1f4fe0'));
line(xCaT2,yCaT2,caStepT,caBlueDown,'#1f4fe0',1.5,sp('#1f4fe0'));
line(xCaT2,yCaT2,caStepT,caBlackUp2,'#000',1.5,sp('#000'));
line(xCaT2,yCaT2,caStepT,caBlackDown2,'#000',1.5,sp('#000'));
seg(388,1183,388,1200); seg(370,1200,388,1200);
ann('5 mV',381,1190,11,{angle:-90}); ann('250 ms',373,1212,11);

// ---------- Cb ----------
ann('<b>Cb</b>',413,975,23,{xanchor:'left'});
const xCb = visX(473,680,[-0.6,4.51],1153,{tickvals:[-0.5,0.5,1.5,2.5,3.5,4.5],labels:false,ticklen:10});
const yCb = visY(1010,1152,[-61.3,29.6],473,{tickvals:[-60,-40,-20,0,20],ticklen:6});
const cbX = cbCats.map((_,i)=>i);
traces.push({type:'bar',xaxis:xCb,yaxis:yCb,x:cbX,y:cbVals,width:0.82,marker:{color:'#c3c3c3',line:{color:'#7f7f7f',width:1.6}},
  error_y:{type:'data',array:cbErr,color:'#7f7f7f',thickness:1.6,width:4},hoverinfo:'skip'});
const xCbL = addX({domain:[fx(473),fx(680)],range:[-0.6,4.51],anchor:'free',position:fy(1159),showline:false,ticks:'',
  tickvals:cbX,ticktext:cbCats,tickangle:-45,showgrid:false,zeroline:false,tickfont:{family:FONT,size:11.5,color:'#000'},fixedrange:true});
traces.push({type:'scatter',mode:'markers',xaxis:xCbL,yaxis:yCb,x:cbX,y:cbVals,marker:{opacity:0},hoverinfo:'skip'});
ann('Change of Gin (%)',433,1080,12,{angle:-90});
ann('***',500,1117,11);
seg(538,1003,659,1003,'#000',1.3); seg(538,1003,538,1015,'#000',1.3); seg(659,1003,659,1015,'#000',1.3);
ann('n.s.',598,996,11);

Plotly.newPlot('chart', traces, layout, {staticPlot:true, displayModeBar:false});
</script>
</body></html>
